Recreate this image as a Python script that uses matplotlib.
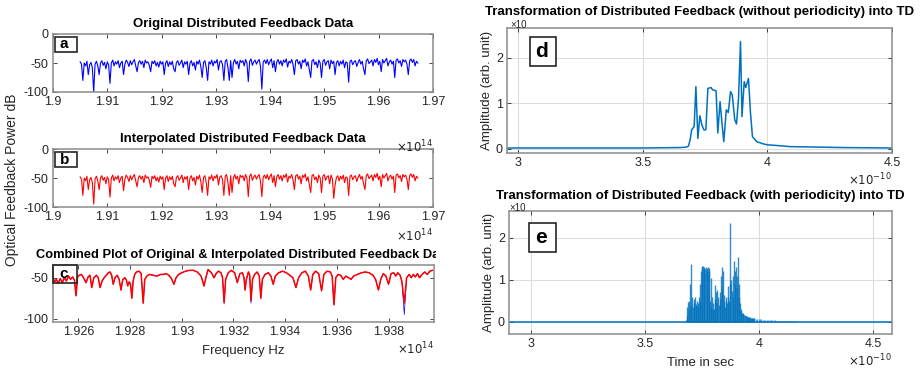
import matplotlib.pyplot as plt
import numpy as np
from matplotlib.patches import Rectangle
from matplotlib.ticker import FormatStrFormatter
from matplotlib.transforms import Bbox, TransformedBbox

plt.rcParams['font.family'] = ['Liberation Sans', 'DejaVu Sans']

W, H = 921, 369

# --- panel a / b: full spectrum, frequency in units of 1e14 Hz ---
spec_start, spec_stop = 1.905, 1.9672
orig_power = [
    -48, -52, -80, -50, -55, -47, -70, -53, -49, -58,
    -100, -52, -47, -55, -70, -50, -46, -54, -49, -60,
    -48, -53, -85, -50, -45, -55, -48, -52, -46, -58,
    -50, -47, -70, -52, -45, -49, -56, -46, -53, -48,
    -44, -55, -65, -49, -46, -52, -47, -58, -45, -50,
    -48, -54, -65, -47, -51, -46, -55, -49, -57, -47,
    -52, -48, -70, -50, -46, -56, -48, -53, -47, -60,
    -65, -49, -46, -54, -50, -45, -58, -48, -52, -47,
    -70, -50, -46, -55, -49, -62, -47, -52, -45, -56,
    -75, -49, -46, -58, -80, -48, -52, -45, -55, -47,
    -50, -44, -62, -48, -46, -53, -80, -47, -44, -58,
    -80, -46, -75, -50, -44, -52, -47, -60, -45, -49,
    -46, -55, -44, -50, -82, -47, -43, -54, -48, -45,
    -52, -47, -44, -56, -95, -48, -45, -51, -44, -53,
    -47, -43, -58, -46, -65, -48, -44, -52, -46, -55,
    -45, -49, -43, -57, -47, -50, -44, -53, -70, -46,
    -44, -52, -47, -60, -45, -49, -43, -55, -48, -62,
    -75, -46, -44, -53, -48, -58, -45, -50, -75, -47,
    -44, -54, -48, -46, -60, -45, -51, -47, -70, -49,
    -46, -55, -47, -52, -45, -58, -48, -50, -83, -47,
    -45, -53, -48, -46, -56, -49, -44, -52, -47, -60,
    -70, -46, -43, -51, -48, -45, -55, -44, -49, -42,
    -53, -47, -65, -44, -50, -46, -42, -55, -48, -45,
    -52, -47, -75, -45, -43, -50, -46, -56, -44, -48,
    -45, -52, -70, -46, -43, -49, -44, -55, -47, -50,
]
interp_power = [
    -48, -52, -80, -50, -55, -47, -70, -53, -49, -58,
    -95, -52, -47, -55, -70, -50, -46, -54, -49, -60,
    -48, -53, -83, -50, -45, -55, -48, -52, -46, -58,
    -50, -47, -72, -52, -45, -49, -56, -46, -53, -48,
    -44, -55, -65, -49, -46, -52, -47, -58, -45, -50,
    -48, -54, -66, -47, -51, -46, -55, -49, -57, -47,
    -52, -48, -70, -50, -46, -56, -48, -53, -47, -60,
    -65, -49, -46, -54, -50, -45, -58, -48, -52, -47,
    -70, -50, -46, -55, -49, -62, -47, -52, -45, -56,
    -75, -49, -46, -58, -80, -48, -52, -45, -55, -47,
    -50, -44, -62, -48, -46, -53, -80, -47, -44, -58,
    -80, -46, -75, -50, -44, -52, -47, -60, -45, -49,
    -46, -55, -44, -50, -82, -47, -43, -54, -48, -45,
    -52, -47, -44, -56, -82, -48, -45, -51, -44, -53,
    -47, -43, -58, -46, -65, -48, -44, -52, -46, -55,
    -45, -49, -43, -57, -47, -50, -44, -53, -70, -46,
    -44, -52, -47, -60, -45, -49, -43, -55, -48, -62,
    -75, -46, -44, -53, -48, -58, -45, -50, -75, -47,
    -44, -54, -48, -46, -60, -45, -51, -85, -62, -49,
    -46, -55, -47, -52, -45, -58, -48, -50, -80, -47,
    -45, -53, -48, -46, -56, -49, -44, -52, -47, -60,
    -70, -46, -43, -51, -48, -45, -55, -44, -49, -42,
    -53, -47, -65, -44, -50, -46, -42, -55, -48, -45,
    -52, -47, -75, -45, -43, -50, -46, -56, -44, -48,
    -45, -52, -70, -46, -43, -49, -44, -55, -47, -50,
]

# --- panel c: zoomed spectrum ---
c_freq = [
    1.92502, 1.92508, 1.92515, 1.92522, 1.92530, 1.92538, 1.92546, 1.92554, 1.92562, 1.92570,
    1.92578, 1.92585, 1.92591, 1.92597, 1.92603, 1.92612, 1.92620, 1.92630, 1.92638, 1.92645,
    1.92652, 1.92660, 1.92670, 1.92677, 1.92684, 1.92692, 1.92700, 1.92708, 1.92716, 1.92723,
    1.92729, 1.92735, 1.92742, 1.92750, 1.92758, 1.92765, 1.92772, 1.92780, 1.92786, 1.92791,
    1.92797, 1.92802, 1.92807, 1.92812, 1.92818, 1.92825, 1.92835, 1.92843, 1.92851, 1.92857,
    1.92865, 1.92875, 1.92890, 1.92905, 1.92918, 1.92929, 1.92940, 1.92950, 1.92960, 1.92970,
    1.92978, 1.92988, 1.93000, 1.93015, 1.93030, 1.93045, 1.93060, 1.93075, 1.93086, 1.93095,
    1.93102, 1.93115, 1.93125, 1.93133, 1.93142, 1.93152, 1.93158, 1.93164, 1.93170, 1.93180,
    1.93192, 1.93205, 1.93215, 1.93225, 1.93235, 1.93241, 1.93245, 1.93250, 1.93258, 1.93263,
    1.93268, 1.93274, 1.93282, 1.93292, 1.93300, 1.93306, 1.93312, 1.93322, 1.93335, 1.93345,
    1.93354, 1.93362, 1.93375, 1.93390, 1.93405, 1.93418, 1.93430, 1.93442, 1.93452, 1.93465,
    1.93478, 1.93490, 1.93499, 1.93507, 1.93518, 1.93530, 1.93541, 1.93550, 1.93562, 1.93575,
    1.93582, 1.93589, 1.93596, 1.93605, 1.93615, 1.93625, 1.93635, 1.93645, 1.93655, 1.93665,
    1.93680, 1.93695, 1.93710, 1.93725, 1.93740, 1.93750, 1.93761, 1.93770, 1.93780, 1.93790,
    1.93800, 1.93810, 1.93820, 1.93828, 1.93836, 1.93845, 1.93852, 1.93861, 1.93870, 1.93880,
    1.93888, 1.93896, 1.93904, 1.93912, 1.93920, 1.93930, 1.93940, 1.93950, 1.93960, 1.93970,
]
c_interp = [
    -50, -55, -52, -57, -51, -56, -50, -54, -48, -52,
    -49, -53, -72, -49, -47, -46, -50, -56, -49, -47,
    -62, -50, -47, -50, -62, -54, -50, -47, -44, -43,
    -47, -58, -50, -47, -52, -65, -52, -50, -53, -60,
    -55, -58, -75, -54, -46, -43, -42, -45, -81, -52,
    -48, -46, -47, -48, -46, -46, -45, -47, -51, -58,
    -50, -46, -44, -42, -41, -41, -43, -48, -60, -48,
    -40, -44, -50, -45, -42, -44, -50, -80, -52, -44,
    -41, -44, -56, -45, -44, -50, -65, -52, -43, -47,
    -78, -52, -46, -43, -48, -75, -52, -46, -44, -48,
    -58, -48, -44, -42, -44, -47, -50, -62, -50, -44,
    -42, -48, -65, -46, -42, -45, -66, -46, -42, -43,
    -48, -83, -50, -46, -47, -52, -48, -50, -52, -48,
    -46, -44, -43, -44, -47, -52, -65, -52, -45, -48,
    -58, -45, -44, -48, -44, -47, -55, -81, -50, -46,
    -50, -46, -49, -45, -50, -46, -43, -46, -42, -41,
]
c_orig = [
    -50, -55, -52, -57, -51, -56, -50, -54, -48, -52,
    -49, -53, -72, -49, -47, -46, -50, -56, -49, -47,
    -62, -50, -47, -50, -62, -54, -50, -47, -44, -43,
    -47, -58, -50, -47, -52, -65, -52, -50, -53, -60,
    -55, -58, -75, -54, -46, -43, -42, -45, -81, -52,
    -48, -46, -47, -48, -46, -46, -45, -47, -51, -58,
    -50, -46, -44, -42, -41, -41, -43, -48, -60, -48,
    -40, -44, -50, -45, -42, -44, -50, -82, -52, -44,
    -41, -44, -56, -45, -44, -50, -65, -52, -43, -47,
    -81, -52, -46, -43, -48, -75, -52, -46, -44, -48,
    -58, -48, -44, -42, -44, -47, -50, -62, -50, -44,
    -42, -48, -65, -46, -42, -45, -66, -46, -42, -43,
    -48, -83, -50, -46, -47, -52, -48, -50, -52, -48,
    -46, -44, -43, -44, -47, -52, -65, -52, -45, -48,
    -58, -45, -44, -48, -44, -47, -55, -95, -50, -46,
    -50, -46, -49, -45, -50, -46, -43, -46, -42, -41,
]

# --- panel d: time domain without periodicity (time in 1e-10 s) ---
d_time = [2.95, 3.2, 3.5, 3.65, 3.675, 3.683, 3.69, 3.696, 3.706, 3.713,
          3.721, 3.729, 3.737, 3.745, 3.753, 3.761, 3.767, 3.774, 3.780, 3.787,
          3.794, 3.801, 3.810, 3.818, 3.825, 3.835, 3.843, 3.852, 3.859, 3.869,
          3.876, 3.884, 3.892, 3.898, 3.907, 3.913, 3.924, 3.932, 3.940, 3.957,
          3.984, 4.00, 4.05, 4.09, 4.2, 4.3, 4.5]
d_amp = [0.02, 0.02, 0.02, 0.03, 0.04, 0.06, 0.2, 0.42, 0.49, 1.37,
         0.23, 0.73, 0.53, 0.42, 0.42, 1.33, 1.34, 1.35, 1.30, 1.29,
         1.28, 0.35, 1.04, 0.55, 0.16, 0.86, 0.80, 1.26, 1.19, 0.64,
         0.55, 1.10, 2.36, 0.71, 1.48, 1.35, 1.55, 0.80, 0.27, 0.16,
         0.11, 0.09, 0.07, 0.05, 0.04, 0.03, 0.02]

# --- panel e: time domain with periodicity ---
e_start, e_stop = 3.680, 3.977
e_amp = [
    0.05, 0.36, 0.15, 0.48, 0.30, 0.50, 0.90, 1.37, 0.40, 0.60,
    0.36, 0.55, 0.45, 0.60, 0.38, 0.42, 0.50, 0.35, 0.45, 0.60,
    0.50, 0.90, 1.20, 1.33, 1.30, 1.32, 1.28, 1.30, 1.25, 1.30,
    1.22, 1.28, 1.30, 1.20, 1.28, 0.50, 0.35, 1.05, 0.60, 0.30,
    0.45, 0.30, 0.87, 0.55, 0.70, 0.45, 0.75, 0.60, 0.40, 0.55,
    0.70, 1.10, 1.30, 0.80, 1.20, 0.65, 0.50, 0.35, 0.60, 0.50,
    0.45, 0.85, 0.60, 0.50, 0.90, 2.35, 1.00, 0.73, 0.60, 1.10,
    1.45, 0.90, 1.20, 1.30, 0.80, 1.10, 1.55, 0.90, 0.60, 0.45,
    0.30, 0.25, 0.22, 0.20, 0.18, 0.17, 0.16, 0.15, 0.14, 0.13,
    0.12, 0.12, 0.11, 0.11, 0.10, 0.10, 0.09, 0.09, 0.08, 0.08,
]
tail_start, tail_stop = 3.980, 4.160
e_tail = [0.080, 0.075, 0.070, 0.065, 0.060, 0.058, 0.055, 0.050, 0.048, 0.045,
          0.042, 0.040, 0.038, 0.036, 0.034, 0.032, 0.030, 0.028, 0.026, 0.025,
          0.024, 0.022, 0.020, 0.019, 0.018, 0.017, 0.016, 0.015, 0.014, 0.013, 0.012]

MATLAB_BLUE = '#0072BD'
TEXT = '#262626'


def px_axes(fig, left, top, right, bottom):
    return fig.add_axes([left / W, 1 - bottom / H, (right - left) / W, (bottom - top) / H])


def style(ax, grid=False):
    ax.tick_params(direction='in', top=True, right=True, length=3, width=0.6,
                   labelsize=9, colors=TEXT, pad=3)
    for s in ax.spines.values():
        s.set_color('#8c8c8c')
        s.set_linewidth(1.1)
    ax.xaxis.set_major_formatter(FormatStrFormatter('%g'))
    ax.yaxis.set_major_formatter(FormatStrFormatter('%g'))
    if grid:
        ax.grid(True, color='#dcdcdc', linewidth=0.8)
        ax.set_axisbelow(True)


def label_box(fig, left, top, right, bottom, letter, size, fill=True):
    fig.add_artist(Rectangle((left / W, 1 - bottom / H), (right - left) / W, (bottom - top) / H,
                             transform=fig.transFigure, facecolor='white' if fill else 'none',
                             edgecolor=TEXT, linewidth=1.2, zorder=5))
    fig.text((left + right) / 2 / W - 0.002, 1 - (top + bottom) / 2 / H, letter, fontsize=size,
             fontweight='bold', ha='center', va='center', color='black', zorder=6)


fig = plt.figure(figsize=(W / 100, H / 100), dpi=100)

# panel a
ax_a = px_axes(fig, 53, 34, 433, 92)
ax_a.plot(np.linspace(spec_start, spec_stop, len(orig_power)), orig_power, color='#0000FF', lw=0.8)
ax_a.set_xlim(1.9, 1.97)
ax_a.set_ylim(-100, 0)
ax_a.set_xticks(np.arange(1.90, 1.9701, 0.01))
ax_a.set_yticks([-100, -50, 0])
style(ax_a)
ax_a.set_title('Original Distributed Feedback Data', fontsize=9.5, fontweight='bold', pad=5)

# panel b
ax_b = px_axes(fig, 53, 149, 433, 207)
ax_b.plot(np.linspace(spec_start, spec_stop, len(interp_power)), interp_power, color='#FF0000', lw=0.8)
ax_b.set_xlim(1.9, 1.97)
ax_b.set_ylim(-100, 0)
ax_b.set_xticks(np.arange(1.90, 1.9701, 0.01))
ax_b.set_yticks([-100, -50, 0])
style(ax_b)
ax_b.set_title('Interpolated Distributed Feedback Data', fontsize=9.5, fontweight='bold', pad=5)

# panel c
ax_c = px_axes(fig, 53, 265, 434, 322)
ax_c.plot(c_freq, c_orig, color='#0000FF', lw=0.5)
ax_c.plot(c_freq, c_interp, color='#FF0000', lw=1.1)
ax_c.set_xlim(1.92502, 1.93976)
ax_c.set_ylim(-104, -34.5)
ax_c.set_xticks(np.arange(1.926, 1.9381, 0.002))
ax_c.set_yticks([-100, -50])
style(ax_c)
ax_c.set_xlabel('Frequency Hz', fontsize=9.5, color=TEXT, labelpad=5)
t = ax_c.set_title('Combined Plot of Original & Interpolated Distributed Feedback Data',
                   fontsize=9.3, fontweight='bold', pad=5)
# the original figure is cut off at its right edge
t.set_clip_box(TransformedBbox(Bbox([[0, 0], [436 / W, 1]]), fig.transFigure))
t.set_clip_on(True)

# panel d
ax_d = px_axes(fig, 507, 28, 892, 153)
ax_d.plot(d_time, d_amp, color=MATLAB_BLUE, lw=1.1)
ax_d.set_xlim(2.955, 4.5)
ax_d.set_ylim(-0.09, 2.66)
ax_d.set_xticks([3, 3.5, 4, 4.5])
ax_d.set_yticks([0, 1, 2])
style(ax_d, grid=True)
ax_d.set_ylabel('Amplitude (arb. unit)', fontsize=9.5, color=TEXT, labelpad=2)
fig.text(510 / W, 1 - 27.5 / H, '×10', fontsize=7, color=TEXT, ha='left', va='baseline')
ax_d.set_title('Transformation of Distributed Feedback (without periodicity) into TD',
               fontsize=9.5, fontweight='bold', pad=9)

# panel e
ax_e = px_axes(fig, 509, 211, 892, 334)
ax_e.axhline(0, color=MATLAB_BLUE, lw=1.1)
ax_e.vlines(np.linspace(e_start, e_stop, len(e_amp)), 0, e_amp, color=MATLAB_BLUE, lw=1.0, alpha=0.8)
ax_e.vlines(np.linspace(tail_start, tail_stop, len(e_tail)), 0, e_tail, color=MATLAB_BLUE, lw=1.0, alpha=0.6)
ax_e.set_xlim(2.904, 4.583)
ax_e.set_ylim(-0.29, 2.64)
ax_e.set_xticks([3, 3.5, 4, 4.5])
ax_e.set_yticks([0, 1, 2])
style(ax_e, grid=True)
ax_e.set_ylabel('Amplitude (arb. unit)', fontsize=9.5, color=TEXT, labelpad=2)
ax_e.set_xlabel('Time in sec', fontsize=9.5, color=TEXT, labelpad=5)
fig.text(509 / W, 1 - 210.5 / H, '×10', fontsize=7, color=TEXT, ha='left', va='baseline')
ax_e.set_title('Transformation of Distributed Feedback (with periodicity) into TD',
               fontsize=9.5, fontweight='bold', pad=9)

# exponent labels (MATLAB style, bottom right)
for right, y, txt in [(433, 147, r'$\times10^{14}$'), (433, 236, r'$\times10^{14}$'),
                      (434, 349, r'$\times10^{14}$'), (892, 180, r'$\times10^{-10}$'),
                      (892, 361, r'$\times10^{-10}$')]:
    fig.text(right / W, 1 - y / H, txt, fontsize=8.5, color=TEXT, ha='right', va='center')

fig.text(12 / W, 1 - 180 / H, 'Optical Feedback Power dB', rotation=90, fontsize=10,
         color=TEXT, ha='center', va='center')

# panel letters
label_box(fig, 55, 37, 77, 52, 'a', 11)
label_box(fig, 55, 152, 77, 167, 'b', 11)
label_box(fig, 53, 265, 77, 283, 'c', 11, fill=False)
label_box(fig, 530, 37, 556, 66, 'd', 15)
label_box(fig, 529, 223, 556, 252, 'e', 15)

fig.savefig('out.png', dpi=100, facecolor='white')
